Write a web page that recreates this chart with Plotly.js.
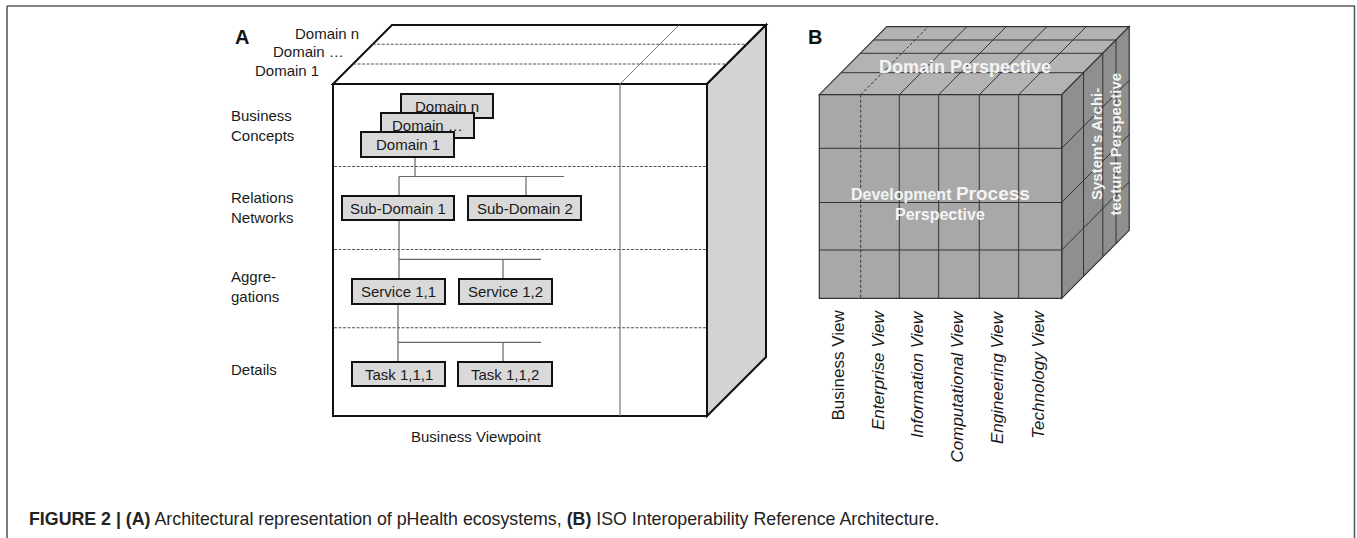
<!DOCTYPE html>
<html>
<head>
<meta charset="utf-8">
<script src="https://cdn.plot.ly/plotly-3.0.1.min.js"></script>
<style>
html,body{margin:0;padding:0;background:#fff;}
#chart{width:1357px;height:538px;}
</style>
</head>
<body>
<div id="chart"></div>
<script>
// ---------- DATA (labels) ----------
const panelLabels = ["A", "B"];
const domainStackLabels = ["Domain n", "Domain …", "Domain 1"];
const layerLabels = ["Business<br>Concepts", "Relations<br>Networks", "Aggre-<br>gations", "Details"];
const domainBoxLabels = ["Domain n", "Domain …", "Domain 1"];
const subDomainLabels = ["Sub-Domain 1", "Sub-Domain 2"];
const serviceLabels = ["Service 1,1", "Service 1,2"];
const taskLabels = ["Task 1,1,1", "Task 1,1,2"];
const viewpointLabel = "Business Viewpoint";
const viewLabels = ["Business View", "Enterprise View", "Information View", "Computational View", "Engineering View", "Technology View"];
const viewItalic = [false, true, true, true, true, true];
const topPerspective = "Domain Perspective";
const frontPerspective = ["Development <span style='font-size:19px'>Process</span>", "Perspective"];
const sidePerspective = ["System's Archi-", "tectural Perspective"];
const captionText = "<b>FIGURE 2 | (A)</b> Architectural representation of pHealth ecosystems, <b>(B)</b> ISO Interoperability Reference Architecture.";

// ---------- GEOMETRY ----------
const W = 1357, H = 538;
const FONT = "Liberation Sans, Arial, sans-serif";
const TXT = "#1a1a1a";

// Panel A cube
const A = {x0: 333, x1: 707, y0: 84, y1: 416, d: 59, split: 620};
const A_topDashY = [44.3, 64];
const A_frontDashY = [166.5, 249.5, 327.7];
const A_stackLabelPos = [[361, 33], [346, 51.7], [321, 70.7]];
const A_layerLabelY = [125.5, 207.5, 286, 369.3];
const A_boxes = {
  domain: [[401, 94, 493, 118], [381, 113, 474, 138], [361, 132, 454, 157]],
  sub: [[342, 196, 454, 220], [468, 196, 581, 220]],
  service: [[352, 279, 445, 304], [459, 279, 552, 304]],
  task: [[352, 362, 445, 386], [458, 362, 552, 386]]
};
const A_connectors = [
  [415, 157, 415, 176.5], [399, 176.5, 564, 176.5], [399, 176.5, 399, 196], [526, 176.5, 526, 196],
  [399, 220, 399, 279], [399, 259.3, 541, 259.3], [503, 259.3, 503, 279],
  [398, 304, 398, 362], [398, 342.3, 541, 342.3], [503, 342.3, 503, 362]
];

// Panel B cube
const B = {x0: 819.3, x1: 1061.7, y0: 94.7, y1: 298.3, dx: 67.5, dy: 68};
const B_cols = [819.3, 860.7, 899.3, 938.7, 979.3, 1018.7, 1061.7];
const B_rows = [94.7, 148.3, 202.5, 250, 298.3];
const B_depth = [0, 22, 41.4, 54.7, 68];

const shapes = [];
const annotations = [];

function line(x0, y0, x1, y1, color, width, dash) {
  shapes.push({type: 'line', xref: 'x', yref: 'y', x0, y0, x1, y1,
    line: {color, width, dash: dash || 'solid'}});
}
function poly(pts, fill, color, width) {
  const p = 'M ' + pts.map(q => q[0] + ',' + q[1]).join(' L ') + ' Z';
  shapes.push({type: 'path', xref: 'x', yref: 'y', path: p, fillcolor: fill,
    line: {color, width}});
}
function text(x, y, t, opts) {
  const o = opts || {};
  annotations.push({
    xref: 'x', yref: 'y', x, y, text: t, showarrow: false,
    xanchor: o.xanchor || 'center', yanchor: o.yanchor || 'middle',
    align: o.align || 'center', textangle: o.angle || 0,
    font: {family: FONT, size: o.size || 15, color: o.color || TXT, weight: o.weight || 'normal', style: o.style || 'normal'}
  });
}

// ---- frame ----
line(7, 6, 1355, 6, '#5a5a5a', 1.6);
line(7, 6, 7, H + 2, '#5a5a5a', 1.6);
line(1354.5, 6, 1354.5, H + 2, '#5a5a5a', 1.6);

// ---- Panel A ----
const dA = A.d;
poly([[A.x0, A.y0], [A.x0 + dA, A.y0 - dA], [A.x1 + dA, A.y0 - dA], [A.x1, A.y0]], '#ffffff', '#111', 2);
poly([[A.x1, A.y0], [A.x1 + dA, A.y0 - dA], [A.x1 + dA, A.y1 - dA], [A.x1, A.y1]], '#d3d3d3', '#111', 2);
poly([[A.x0, A.y0], [A.x1, A.y0], [A.x1, A.y1], [A.x0, A.y1]], '#ffffff', '#111', 2);
A_topDashY.forEach(y => {
  const off = A.y0 - y;
  line(A.x0 + off, y, A.x1 + off, y, '#555', 1.1, '3px,1.5px');
});
line(A.split, A.y0, A.split + dA, A.y0 - dA, '#777', 1);
line(A.split, A.y0, A.split, A.y1, '#777', 1.2);
A_frontDashY.forEach(y => line(A.x0 + 1, y, A.x1 - 1, y, '#555', 1.1, '3px,1.5px'));
A_connectors.forEach(c => line(c[0], c[1], c[2], c[3], '#666', 1.2));

function box(b) {
  poly([[b[0], b[1]], [b[2], b[1]], [b[2], b[3]], [b[0], b[3]]], '#d9d9d9', '#111', 2);
}
A_boxes.domain.forEach(b => box(b));
A_boxes.sub.forEach(b => box(b));
A_boxes.service.forEach(b => box(b));
A_boxes.task.forEach(b => box(b));

function boxText(b, label) { text((b[0] + b[2]) / 2, (b[1] + b[3]) / 2, label, {size: 15}); }
A_boxes.domain.forEach((b, i) => boxText(b, domainBoxLabels[i]));
A_boxes.sub.forEach((b, i) => boxText(b, subDomainLabels[i]));
A_boxes.service.forEach((b, i) => boxText(b, serviceLabels[i]));
A_boxes.task.forEach((b, i) => boxText(b, taskLabels[i]));

domainStackLabels.forEach((t, i) => text(A_stackLabelPos[i][0], A_stackLabelPos[i][1], t, {xanchor: 'right'}));
layerLabels.forEach((t, i) => text(229, A_layerLabelY[i], t, {xanchor: 'left', align: 'left'}));
text(476.7, 436.7, viewpointLabel, {size: 15});
text(241.5, 37, panelLabels[0], {size: 20, weight: 'bold', color: '#111'});

// ---- Panel B ----
const dx = B.dx, dy = B.dy;
poly([[B.x0, B.y0], [B.x0 + dx, B.y0 - dy], [B.x1 + dx, B.y0 - dy], [B.x1, B.y0]], '#b3b3b3', '#333', 1.2);
poly([[B.x1, B.y0], [B.x1 + dx, B.y0 - dy], [B.x1 + dx, B.y1 - dy], [B.x1, B.y1]], '#8f8f8f', '#333', 1.2);
poly([[B.x0, B.y0], [B.x1, B.y0], [B.x1, B.y1], [B.x0, B.y1]], '#a8a8a8', '#333', 1.2);

// front grid
B_cols.slice(1, -1).forEach((x, i) => line(x, B.y0, x, B.y1, '#333', 1, i === 0 ? '3px,2px' : 'solid'));
B_rows.slice(1, -1).forEach(y => line(B.x0, y, B.x1, y, '#333', 1));
// top grid
B_cols.slice(1, -1).forEach((x, i) => line(x, B.y0, x + dx, B.y0 - dy, '#333', 1, i === 0 ? '3px,2px' : 'solid'));
B_depth.slice(1, -1).forEach(t => line(B.x0 + t * dx / dy, B.y0 - t, B.x1 + t * dx / dy, B.y0 - t, '#333', 1));
// side grid
B_depth.slice(1, -1).forEach(t => line(B.x1 + t * dx / dy, B.y0 - t, B.x1 + t * dx / dy, B.y1 - t, '#333', 1));
B_rows.slice(1, -1).forEach(y => line(B.x1, y, B.x1 + dx, y - dy, '#333', 1));

text(965, 66.7, topPerspective, {size: 18, weight: 'bold', color: '#f4f4f4'});
text(940, 193, frontPerspective[0], {size: 16, weight: 'bold', color: '#f4f4f4'});
text(940, 214, frontPerspective[1], {size: 16, weight: 'bold', color: '#f4f4f4'});
text(1096, 144, sidePerspective[0], {size: 15, weight: 'bold', color: '#f4f4f4', angle: -90});
text(1114.5, 144, sidePerspective[1], {size: 15, weight: 'bold', color: '#f4f4f4', angle: -90});

viewLabels.forEach((t, i) => {
  const cx = (B_cols[i] + B_cols[i + 1]) / 2 - 2;
  text(cx, 308, t, {size: 17, angle: -90, yanchor: 'top', style: viewItalic[i] ? 'italic' : 'normal'});
});
text(815, 36.7, panelLabels[1], {size: 20, weight: 'bold', color: '#111'});

// caption
text(27, 519, captionText, {size: 17.8, xanchor: 'left', align: 'left', color: '#222'});

const layout = {
  width: W, height: H,
  margin: {l: 0, r: 0, t: 0, b: 0, pad: 0},
  paper_bgcolor: '#ffffff', plot_bgcolor: '#ffffff',
  showlegend: false,
  xaxis: {range: [0, W], visible: false, fixedrange: true},
  yaxis: {range: [H, 0], visible: false, fixedrange: true},
  shapes, annotations
};
Plotly.newPlot('chart', [{x: [], y: [], type: 'scatter', mode: 'markers', hoverinfo: 'skip'}], layout, {displayModeBar: false, staticPlot: true});
</script>
</body>
</html>
